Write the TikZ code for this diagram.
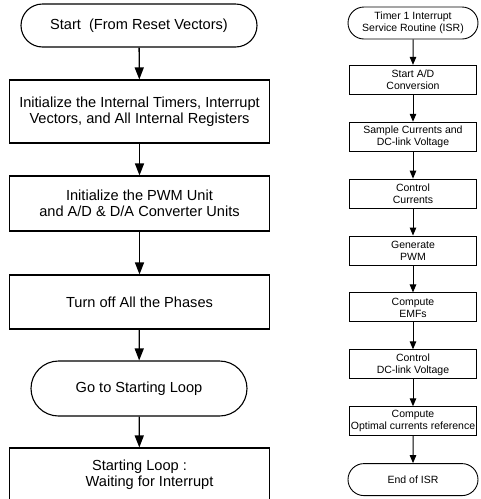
\documentclass[tikz,border=0pt]{standalone}
\usepackage{fontspec}
\setmainfont{Liberation Sans}
\usetikzlibrary{shapes.misc,arrows.meta}
\begin{document}
\begin{tikzpicture}[x=1pt,y=-1pt,
    box/.style={draw,line width=1.1pt,align=center,inner sep=1pt,minimum width=260pt,font=\fontsize{14.6}{16}\selectfont},
    term/.style={box,rounded rectangle},
    sbox/.style={draw,line width=0.9pt,align=center,inner sep=0.5pt,minimum width=127pt,minimum height=29pt,font=\fontsize{10.5}{12}\selectfont},
    sterm/.style={sbox,rounded rectangle,minimum width=131pt,minimum height=32pt},
    arr/.style={line width=1.3pt,-{Triangle[length=12pt,width=9pt]}},
    sarr/.style={line width=1pt,-{Triangle[length=8pt,width=6.5pt]}}]
                \useasboundingbox (0,0) rectangle (481,499);
                % main program
                \node[term,minimum width=238pt,minimum height=43pt] (start) at (139,25.5) {Start\ \ (From Reset Vectors)};
                \node[box,minimum height=63pt] (init) at (139.5,111.5) {Initialize the Internal Timers, Interrupt\\Vectors, and All Internal Registers};
                \node[box,minimum height=55pt] (pwm) at (139.5,203.5) {Initialize the PWM Unit\\and A/D \& D/A Converter Units};
                \node[box,minimum height=54pt] (phases) at (139.5,302) {Turn off All the Phases};
                \node[term,minimum width=218pt,minimum height=55pt] (goto) at (139,388.5) {Go to Starting Loop};
                \node[box,minimum height=54pt] (loop) at (139.5,475) {Starting Loop :\\\hspace*{20pt}Waiting for Interrupt};
                \draw[arr] (start) -- (init);
                \draw[arr] (init) -- (pwm);
                \draw[arr] (pwm) -- (phases);
                \draw[arr] (phases) -- (goto);
                \draw[arr] (goto) -- (loop);
                % interrupt routine
                \node[sterm] (isr) at (413,23) {Timer 1 Interrupt\\Service Routine (ISR)};
                \node[sbox] (ad) at (413,79.8) {Start A/D\\Conversion};
                \node[sbox] (sample) at (413,136.7) {Sample Currents and\\DC-link Voltage};
                \node[sbox] (ctrl) at (413,193.6) {Control\\Currents};
                \node[sbox] (gen) at (413,250.5) {Generate\\PWM};
                \node[sbox] (emf) at (413,307.4) {Compute\\EMFs};
                \node[sbox] (dclink) at (413,364.3) {Control\\DC-link Voltage};
                \node[sbox] (opt) at (413,421.2) {Compute\\Optimal currents reference};
                \node[sterm] (isrend) at (413,479.6) {End of ISR};
                \draw[sarr] (isr) -- (ad);
                \draw[sarr] (ad) -- (sample);
                \draw[sarr] (sample) -- (ctrl);
                \draw[sarr] (ctrl) -- (gen);
                \draw[sarr] (gen) -- (emf);
                \draw[sarr] (emf) -- (dclink);
                \draw[sarr] (dclink) -- (opt);
                \draw[sarr] (opt) -- (isrend);
            \end{tikzpicture}
\end{document}
